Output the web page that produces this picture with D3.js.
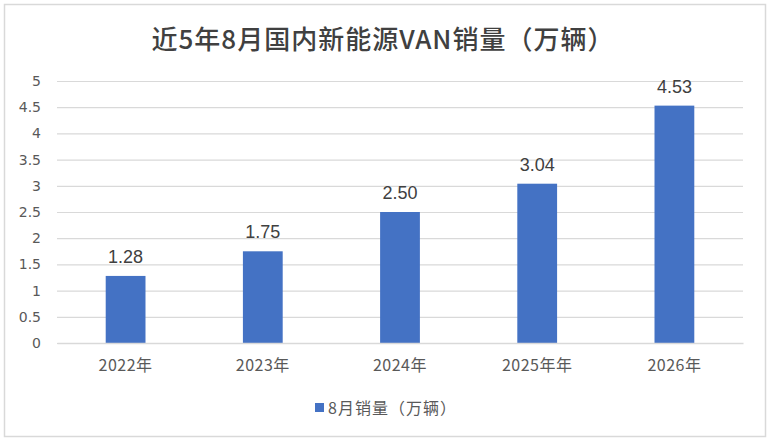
<!DOCTYPE html>
<html>
<head>
<meta charset="utf-8">
<script src="https://cdn.jsdelivr.net/npm/d3@7"></script>
<style>
  body { margin: 0; background: #fff; }
  text { font-family: "Noto Sans CJK SC", "Noto Sans", sans-serif; }
</style>
</head>
<body>
<div id="chart"></div>
<script>
// data
var years = ["2022年", "2023年", "2024年", "2025年年", "2026年"];
var sales = [1.28, 1.75, 2.50, 3.04, 4.53];
var yTicks = [0, 0.5, 1, 1.5, 2, 2.5, 3, 3.5, 4, 4.5, 5];
var seriesName = "8月销量（万辆）";
var title = "近5年8月国内新能源VAN销量（万辆）";

var width = 771, height = 443;
var margin = { left: 57, right: 28, top: 81, bottom: 100 };
var figw = width - margin.left - margin.right,
    figh = height - margin.top - margin.bottom;

var svg = d3.select("#chart").append("svg")
    .attr("width", width)
    .attr("height", height);

// outer frame
svg.append("rect")
    .attr("x", 4.5).attr("y", 4.5)
    .attr("width", 761).attr("height", 432)
    .attr("fill", "#fff")
    .attr("stroke", "#d9d9d9")
    .attr("stroke-width", 1.5);

svg.append("text")
    .attr("x", 383)
    .attr("y", 49)
    .attr("text-anchor", "middle")
    .attr("font-size", 26)
    .attr("font-weight", 500)
    .attr("letter-spacing", 1)
    .attr("fill", "#404040")
    .text(title);

var xScale = d3.scaleBand().domain(years).range([0, figw]).paddingInner(0.71).paddingOuter(0.355);
var yScale = d3.scaleLinear().domain([0, 5]).range([figh, 0]);

var g = svg.append("g")
    .attr("transform", "translate(" + margin.left + "," + margin.top + ")");

// gridlines
g.append("g")
    .attr("class", "grid")
    .call(d3.axisLeft(yScale).tickValues(yTicks).tickSize(-figw).tickFormat(""))
    .call(function(s) {
      s.select(".domain").remove();
      s.selectAll("line").attr("stroke", "#d9d9d9").attr("stroke-width", 1.2);
    });

// y labels
g.append("g")
    .call(d3.axisLeft(yScale).tickValues(yTicks).tickSize(0).tickPadding(16).tickFormat(d3.format("")))
    .call(function(s) {
      s.select(".domain").remove();
      s.selectAll("text").attr("font-size", 14).attr("fill", "#595959")
        .style("font-family", "'DejaVu Sans', sans-serif");
    });

// bars
g.selectAll(".bar")
    .data(sales)
  .enter().append("rect")
    .attr("class", "bar")
    .attr("x", function(d, i) { return xScale(years[i]); })
    .attr("y", function(d) { return yScale(d); })
    .attr("width", xScale.bandwidth())
    .attr("height", function(d) { return figh - yScale(d); })
    .attr("fill", "#4472c4");

// value labels
g.selectAll(".val")
    .data(sales)
  .enter().append("text")
    .attr("class", "val")
    .attr("x", function(d, i) { return xScale(years[i]) + xScale.bandwidth() / 2; })
    .attr("y", function(d) { return yScale(d) - 13; })
    .attr("text-anchor", "middle")
    .attr("font-size", 18)
    .attr("fill", "#404040")
    .style("font-family", "'Liberation Sans', sans-serif")
    .text(function(d) { return d.toFixed(2); });

// x axis
g.append("g")
    .attr("transform", "translate(0," + figh + ")")
    .call(d3.axisBottom(xScale).tickSize(0).tickPadding(17))
    .call(function(s) {
      s.select(".domain").attr("stroke", "#d9d9d9").attr("stroke-width", 1.5);
      s.selectAll("text").attr("font-size", 16).attr("letter-spacing", 0.5).attr("fill", "#595959");
    });

// legend
var lg = svg.append("g").attr("transform", "translate(315,403)");
lg.append("rect").attr("x", 0).attr("y", 0).attr("width", 9).attr("height", 9).attr("fill", "#4472c4");
lg.append("text").attr("x", 13).attr("y", 10.5)
    .attr("font-size", 16).attr("letter-spacing", 1).attr("fill", "#595959")
    .text(seriesName);
</script>
</body>
</html>
